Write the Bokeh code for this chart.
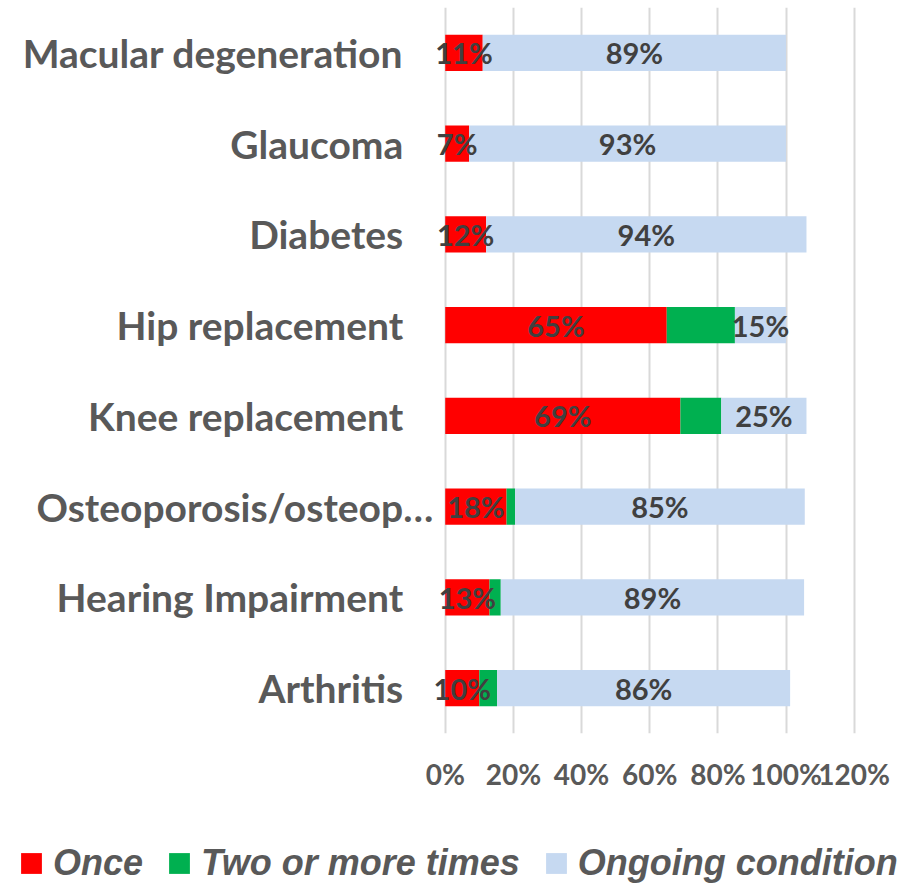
from bokeh.plotting import figure
from bokeh.layouts import column
from bokeh.models import (ColumnDataSource, FactorRange, Range1d, Legend, LegendItem,
                          FixedTicker, PrintfTickFormatter)
from bokeh.core.properties import value
from bokeh.embed import file_html
from bokeh.resources import INLINE

# ---- data ----
categories = ["Macular degeneration", "Glaucoma", "Diabetes", "Hip replacement",
              "Knee replacement", "Osteoporosis/osteop\u2026", "Hearing Impairment", "Arthritis"]
once = [11, 7, 12, 65, 69, 18, 13, 10]
two_or_more = [0, 0, 0, 20, 12, 2.5, 3.3, 5.2]
ongoing = [89, 93, 94, 15, 25, 85, 89, 86]
x_ticks = [0, 20, 40, 60, 80, 100, 120]
series_names = ["Once", "Two or more times", "Ongoing condition"]
series_colors = ["#FF0000", "#00B050", "#C6D9F1"]

FONT = "Lato"

src = ColumnDataSource(dict(cat=categories, once=once, two=two_or_more, ongoing=ongoing))

p = figure(width=906, height=826, output_backend="svg", toolbar_location=None,
           y_range=FactorRange(factors=list(reversed(categories))),
           x_range=Range1d(-130.5, 135.35),
           min_border_left=0, min_border_right=0, min_border_top=7, min_border_bottom=93)
p.outline_line_color = None

p.hbar_stack(["once", "two", "ongoing"], y="cat", height=0.4, color=series_colors,
             line_color=None, source=src)

# data labels (Once and Ongoing)
lx, ly, lt = [], [], []
for c, a, b, d in zip(categories, once, two_or_more, ongoing):
    lx.append(a / 2); ly.append(c); lt.append(f"{a}%")
    lx.append(a + b + d / 2); ly.append(c); lt.append(f"{d}%")
p.text(x=lx, y=ly, text=lt, text_align="center", text_baseline="middle",
       text_font=value(FONT), text_font_style="bold", text_font_size="29px",
       text_color="#404040")

# category labels
p.text(x=[0] * len(categories), y=categories, text=categories,
       x_offset=[-12 if c.endswith("\u2026") else -42 for c in categories],
       text_align="right", text_baseline="middle", text_font=value(FONT),
       text_font_style="bold", text_font_size="39px", text_color="#595959")
p.yaxis.visible = False

# x axis
p.xaxis.ticker = FixedTicker(ticks=x_ticks)
p.xaxis.formatter = PrintfTickFormatter(format="%d%%")
p.xaxis.axis_line_color = None
p.xaxis.major_tick_line_color = None
p.xaxis.minor_tick_line_color = None
p.xaxis.major_label_standoff = 17
p.xaxis.major_label_text_font = FONT
p.xaxis.major_label_text_font_style = "bold"
p.xaxis.major_label_text_font_size = "28px"
p.xaxis.major_label_text_color = "#595959"

p.xgrid.ticker = FixedTicker(ticks=x_ticks)
p.xgrid.grid_line_color = "#D9D9D9"
p.xgrid.grid_line_width = 2
p.ygrid.grid_line_color = None

# ---- legend strip ----
lg = figure(width=906, height=58, output_backend="svg", toolbar_location=None,
            x_range=Range1d(0, 1), y_range=Range1d(0, 1),
            min_border_left=0, min_border_right=0, min_border_top=0, min_border_bottom=0)
lg.outline_line_color = None
lg.axis.visible = False
lg.grid.visible = False
# swatch renderers kept outside the visible range; only their legend glyphs show
lrs = [lg.rect(x=[5], y=[5], width=0.1, height=0.1, fill_color=c, line_color=None)
       for c in series_colors]

legend = Legend(items=[LegendItem(label=n, renderers=[r]) for n, r in zip(series_names, lrs)],
                orientation="horizontal", location=(18, 0))
legend.label_text_font = "Liberation Sans"
legend.label_text_font_style = "bold italic"
legend.label_text_font_size = "36px"
legend.label_text_color = "#595959"
legend.glyph_width = 26
legend.glyph_height = 26
legend.label_standoff = 9
legend.spacing = 23
legend.padding = 0
legend.margin = 0
legend.border_line_color = None
legend.background_fill_alpha = 0
lg.add_layout(legend)

open("out.html", "w").write(file_html(column(p, lg, spacing=0), INLINE))
